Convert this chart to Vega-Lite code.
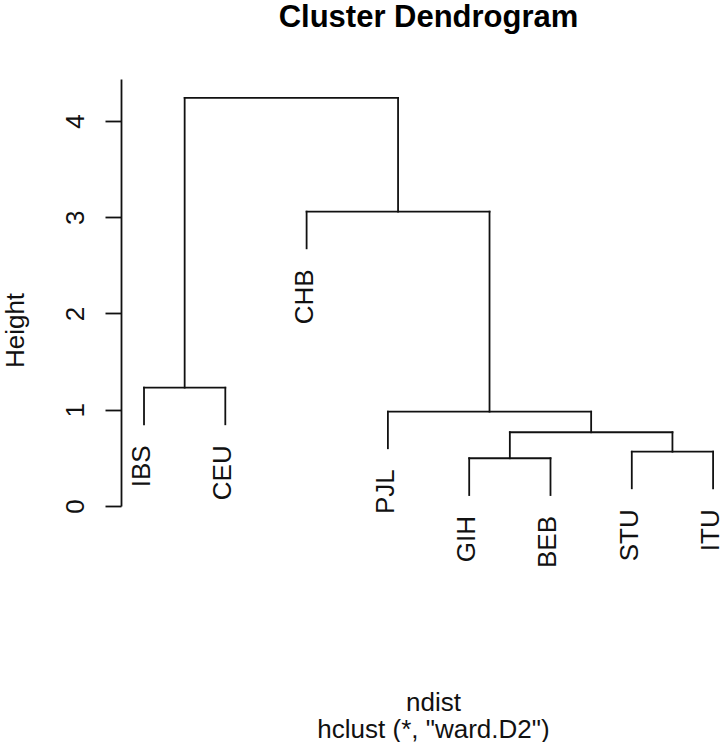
{
  "$schema": "https://vega.github.io/schema/vega-lite/v6.json",
  "width": 599,
  "height": 427,
  "autosize": {"type": "none"},
  "padding": {"left": 121, "top": 79, "right": 0, "bottom": 236},
  "background": "white",
  "title": {
    "text": "Cluster Dendrogram",
    "anchor": "middle",
    "frame": "group",
    "font": "Liberation Sans",
    "fontSize": 31,
    "fontWeight": "bold",
    "color": "black",
    "baseline": "alphabetic",
    "dx": 8,
    "offset": 21
  },
  "config": {"view": {"stroke": null}, "font": "Liberation Sans"},
  "datasets": {
    "segments": [
      {"x0": 1, "x1": 1, "h0": 0.849, "h1": 1.229},
      {"x0": 2, "x1": 2, "h0": 0.849, "h1": 1.229},
      {"x0": 1, "x1": 2, "h0": 1.229, "h1": 1.229},
      {"x0": 1.5, "x1": 1.5, "h0": 1.229, "h1": 4.239},
      {"x0": 5, "x1": 5, "h0": 0.114, "h1": 0.496},
      {"x0": 6, "x1": 6, "h0": 0.114, "h1": 0.496},
      {"x0": 5, "x1": 6, "h0": 0.496, "h1": 0.496},
      {"x0": 7, "x1": 7, "h0": 0.184, "h1": 0.564},
      {"x0": 8, "x1": 8, "h0": 0.184, "h1": 0.564},
      {"x0": 7, "x1": 8, "h0": 0.564, "h1": 0.564},
      {"x0": 5.5, "x1": 5.5, "h0": 0.496, "h1": 0.766},
      {"x0": 7.5, "x1": 7.5, "h0": 0.564, "h1": 0.766},
      {"x0": 5.5, "x1": 7.5, "h0": 0.766, "h1": 0.766},
      {"x0": 4, "x1": 4, "h0": 0.6, "h1": 0.98},
      {"x0": 6.5, "x1": 6.5, "h0": 0.766, "h1": 0.98},
      {"x0": 4, "x1": 6.5, "h0": 0.98, "h1": 0.98},
      {"x0": 3, "x1": 3, "h0": 2.677, "h1": 3.058},
      {"x0": 5.25, "x1": 5.25, "h0": 0.98, "h1": 3.058},
      {"x0": 3, "x1": 5.25, "h0": 3.058, "h1": 3.058},
      {"x0": 4.125, "x1": 4.125, "h0": 3.058, "h1": 4.239},
      {"x0": 1.5, "x1": 4.125, "h0": 4.239, "h1": 4.239}
    ],
    "leaves": [
      {"x0": 1, "h0": 0.849, "label": "IBS"},
      {"x0": 2, "h0": 0.849, "label": "CEU"},
      {"x0": 3, "h0": 2.677, "label": "CHB"},
      {"x0": 4, "h0": 0.6, "label": "PJL"},
      {"x0": 5, "h0": 0.114, "label": "GIH"},
      {"x0": 6, "h0": 0.114, "label": "BEB"},
      {"x0": 7, "h0": 0.184, "label": "STU"},
      {"x0": 8, "h0": 0.184, "label": "ITU"}
    ]
  },
  "layer": [
    {
      "data": {"name": "segments"},
      "mark": {"type": "rule", "color": "#111111", "strokeWidth": 1.8, "strokeCap": "square"},
      "encoding": {
        "x": {
          "field": "x0", "type": "quantitative",
          "scale": {"domain": [0.717, 8.085], "nice": false, "zero": false},
          "axis": {
            "labels": false, "ticks": false, "domain": false, "grid": false,
            "title": ["ndist", "hclust (*, \"ward.D2\")"],
            "titleFont": "Liberation Sans", "titleFontSize": 26, "titleFontWeight": "normal",
            "titleColor": "#111111", "titleX": 312, "titleY": 204, "titleAlign": "center",
            "titleBaseline": "alphabetic", "titleLineHeight": 27, "titleAngle": 0
          }
        },
        "x2": {"field": "x1"},
        "y": {
          "field": "h0", "type": "quantitative",
          "scale": {"domain": [0, 4.436], "nice": false, "zero": true},
          "axis": {
            "values": [0, 1, 2, 3, 4], "grid": false,
            "domainColor": "#111111", "domainWidth": 1.8,
            "tickColor": "#111111", "tickWidth": 1.8, "tickSize": 16,
            "labelFont": "Liberation Sans", "labelFontSize": 26, "labelColor": "#111111",
            "labelAngle": 270, "labelAlign": "center", "labelBaseline": "alphabetic",
            "labelPadding": 22, "labelFlush": false, "labelOverlap": false,
            "title": "Height", "titleFont": "Liberation Sans", "titleFontSize": 26,
            "titleFontWeight": "normal", "titleColor": "#111111", "titleAngle": 270,
            "titleX": -98, "titleY": 251, "titleAlign": "center", "titleBaseline": "alphabetic"
          }
        },
        "y2": {"field": "h1"}
      }
    },
    {
      "data": {"name": "leaves"},
      "mark": {
        "type": "text", "angle": 270, "align": "right", "baseline": "middle",
        "dx": -21, "dy": -2, "font": "Liberation Sans", "fontSize": 26, "color": "#111111"
      },
      "encoding": {
        "x": {
          "field": "x0", "type": "quantitative",
          "scale": {"domain": [0.717, 8.085], "nice": false, "zero": false},
          "axis": {
            "labels": false, "ticks": false, "domain": false, "grid": false,
            "title": ["ndist", "hclust (*, \"ward.D2\")"],
            "titleFont": "Liberation Sans", "titleFontSize": 26, "titleFontWeight": "normal",
            "titleColor": "#111111", "titleX": 312, "titleY": 204, "titleAlign": "center",
            "titleBaseline": "alphabetic", "titleLineHeight": 27, "titleAngle": 0
          }
        },
        "y": {
          "field": "h0", "type": "quantitative",
          "scale": {"domain": [0, 4.436], "nice": false, "zero": true},
          "axis": {
            "values": [0, 1, 2, 3, 4], "grid": false,
            "domainColor": "#111111", "domainWidth": 1.8,
            "tickColor": "#111111", "tickWidth": 1.8, "tickSize": 16,
            "labelFont": "Liberation Sans", "labelFontSize": 26, "labelColor": "#111111",
            "labelAngle": 270, "labelAlign": "center", "labelBaseline": "alphabetic",
            "labelPadding": 22, "labelFlush": false, "labelOverlap": false,
            "title": "Height", "titleFont": "Liberation Sans", "titleFontSize": 26,
            "titleFontWeight": "normal", "titleColor": "#111111", "titleAngle": 270,
            "titleX": -98, "titleY": 251, "titleAlign": "center", "titleBaseline": "alphabetic"
          }
        },
        "text": {"field": "label"}
      }
    }
  ]
}
